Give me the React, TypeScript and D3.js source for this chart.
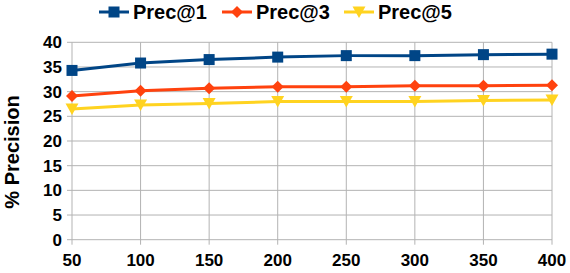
import React from 'react';
import * as d3 from 'd3';

const xValues = [50, 100, 150, 200, 250, 300, 350, 400];
const prec1 = [34.3, 35.8, 36.5, 37.0, 37.3, 37.3, 37.5, 37.6];
const prec3 = [29.1, 30.2, 30.7, 31.0, 31.0, 31.2, 31.2, 31.3];
const prec5 = [26.5, 27.3, 27.6, 28.0, 28.0, 28.0, 28.2, 28.3];
const yTicks = [0, 5, 10, 15, 20, 25, 30, 35, 40];

const series = [
  { name: 'Prec@1', values: prec1, color: '#004586', shape: 'square' },
  { name: 'Prec@3', values: prec3, color: '#ff420e', shape: 'diamond' },
  { name: 'Prec@5', values: prec5, color: '#ffd320', shape: 'triangle' },
];

const width = 570, height = 273;
const plot = { left: 72, right: 552, top: 42.3, bottom: 239.7 };
const font = '"Liberation Sans", Arial, sans-serif';

const marker = (shape: string, cx: number, cy: number, color: string, key?: any) => {
  if (shape === 'square') {
    return <rect key={key} x={cx - 5.5} y={cy - 5.5} width={11} height={11} fill={color} />;
  }
  if (shape === 'diamond') {
    return <path key={key} d={`M${cx},${cy - 6}L${cx + 6},${cy}L${cx},${cy + 6}L${cx - 6},${cy}Z`} fill={color} />;
  }
  return <path key={key} d={`M${cx - 6.5},${cy - 5.5}L${cx + 6.5},${cy - 5.5}L${cx},${cy + 6}Z`} fill={color} />;
};

const App = () => {
  const x = d3.scaleLinear().domain([50, 400]).range([plot.left, plot.right]);
  const y = d3.scaleLinear().domain([0, 40]).range([plot.bottom, plot.top]);
  const line = d3.line<number>()
    .x((_, i) => x(xValues[i]))
    .y((d) => y(d));

  const legendX = [99, 222, 344];

  return (
    <svg width={width} height={height} style={{ position: 'absolute', left: 0, top: 0 }}>
      <rect width={width} height={height} fill="#fff" />
      {/* grid */}
      {yTicks.map((t) => (
        <g key={t}>
          <line x1={plot.left - 5} x2={plot.right} y1={y(t)} y2={y(t)} stroke="#b3b3b3" strokeWidth={1} />
          <text x={plot.left - 10} y={y(t) + 6} textAnchor="end" fontFamily={font} fontWeight="bold" fontSize={17}>{t}</text>
        </g>
      ))}
      {xValues.map((v) => (
        <g key={v}>
          <line x1={x(v)} x2={x(v)} y1={plot.top} y2={plot.bottom + 5} stroke="#b3b3b3" strokeWidth={1} />
          <text x={x(v)} y={266} textAnchor="middle" fontFamily={font} fontWeight="bold" fontSize={17}>{v}</text>
        </g>
      ))}
      <text transform={`translate(19,${(plot.top + plot.bottom) / 2 + 11}) rotate(-90)`} textAnchor="middle"
        fontFamily={font} fontWeight="bold" fontSize={20}>% Precision</text>
      {/* lines */}
      {series.map((s) => (
        <g key={s.name}>
          <path d={line(s.values) || ''} fill="none" stroke={s.color} strokeWidth={3} />
          {s.values.map((v, i) => marker(s.shape, x(xValues[i]), y(v), s.color, i))}
        </g>
      ))}
      {/* legend */}
      {series.map((s, i) => (
        <g key={s.name}>
          <line x1={legendX[i]} x2={legendX[i] + 30} y1={12} y2={12} stroke={s.color} strokeWidth={3} />
          {marker(s.shape, legendX[i] + 15, 12, s.color)}
          <text x={legendX[i] + 34} y={19} fontFamily={font} fontWeight="bold" fontSize={20}>{s.name}</text>
        </g>
      ))}
    </svg>
  );
};

export default App;
